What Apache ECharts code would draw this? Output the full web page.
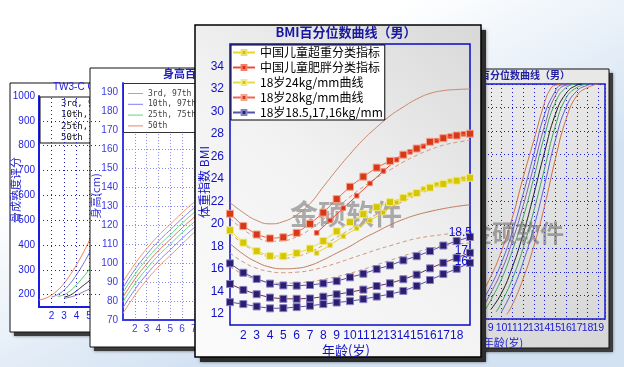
<!DOCTYPE html>
<html><head><meta charset="utf-8">
<script src="https://cdn.jsdelivr.net/npm/echarts@6/dist/echarts.min.js"></script>
<style>html,body{margin:0;padding:0;background:#fff}#c{width:624px;height:367px}</style>
</head><body><div id="c"></div>
<script>
// ================= MAIN CHART (BMI percentile curves, boys) =================
const ages = [1,2,3,4,5,6,7,8,9,10,11,12,13,14,15,16,17,18,19];
const mainXTicks = [2,3,4,5,6,7,8,9,10,11,12,13,14,15,16,17,18];
const mainYTicks = [12,14,16,18,20,22,24,26,28,30,32,34];
const wgocAges = [7.5,8.5,9.5,10.5,11.5,12.5,13.5,14.5,15.5,16.5,17.5,18.5];
const wgocOverweight = [17.4,18.1,18.9,19.6,20.3,21.0,21.9,22.6,23.1,23.5,23.8,24.0];
const wgocObese = [19.2,20.3,21.4,22.5,23.6,24.7,25.7,26.4,26.9,27.4,27.8,28.0];
const cut24 = [19.42,18.33,17.57,17.15,17.12,17.39,17.8,18.48,19.33,20.15,20.86,21.48,21.93,22.32,22.74,23.22,23.55,23.84,24.1];
const cut28 = [20.9,19.8,19.05,18.7,18.8,19.2,20.0,21.0,22.2,23.3,24.2,25.0,25.6,26.15,26.7,27.3,27.62,27.86,28.02];
const cut185 = [16.48,15.65,15.1,14.68,14.52,14.5,14.56,14.7,14.9,15.24,15.56,15.97,16.3,16.75,17.12,17.57,18.07,18.47,18.83];
const cut17 = [14.65,14.12,13.74,13.44,13.33,13.33,13.36,13.52,13.73,13.92,14.15,14.47,14.71,15.07,15.48,16.04,16.53,16.97,17.42];
const cut16 = [13.03,12.86,12.65,12.48,12.5,12.59,12.71,12.86,13.0,13.12,13.3,13.53,13.74,14.03,14.48,15.0,15.53,16.0,16.53];
// percentile reference curves (thin brown; solid P97/P50, dashed P90/P75/P25/P10)
const pctP97 = [21.9,21.0,20.3,20.0,20.2,20.8,21.8,23.3,24.8,26.2,27.5,28.6,29.6,30.4,31.1,31.6,31.85,31.95,32.0];
const pctP90 = [20.5,19.5,18.8,18.45,18.5,18.85,19.5,20.4,21.4,22.4,23.3,24.1,24.8,25.5,26.1,26.6,27.0,27.25,27.45];
const pctP75 = [19.2,18.2,17.5,17.05,16.95,17.1,17.5,18.1,18.8,19.5,20.2,20.85,21.45,22.0,22.55,23.05,23.5,23.9,24.2];
const pctP50 = [18.25,17.3,16.6,16.15,16.0,16.05,16.3,16.8,17.4,18.0,18.7,19.3,19.9,20.4,20.8,21.1,21.35,21.55,21.7];
const pctP25 = [17.4,16.6,16.05,15.75,15.65,15.7,15.85,16.15,16.5,16.9,17.3,17.7,18.05,18.4,18.7,18.9,19.05,19.2,19.3];
const pctP10 = [16.2,15.5,15.05,14.8,14.7,14.75,14.85,15.05,15.3,15.6,15.95,16.35,16.75,17.15,17.5,17.8,18.05,18.2,18.3];
const endLabels = ['18.5','17','16'];

// ================= PANEL A (TW3-C, left) =================
const aXTicks = [2,3,4,5];
const aYTicks = [200,300,400,500,600,700,800,900,1000];
const aCurve1 = [[1,178],[1.5,185],[2,198],[2.5,218],[3,245],[3.5,280],[4,320],[4.5,365],[5,415],[5.5,470]];
const aCurve2 = [[2,190],[2.5,200],[3,218],[3.5,245],[4,280],[4.5,320],[5,365],[5.5,410]];
const aCurve3 = [[2.5,192],[3,200],[3.5,215],[4,240],[4.5,268],[5,300],[5.5,335]];
const aCurve4 = [[3,190],[3.5,198],[4,215],[4.5,235],[5,255],[5.5,280]];
const aCurve5 = [[3,185],[3.5,190],[4,198],[4.5,210],[5,222],[5.5,238]];
const aLegend = ['3rd, 97th','10th, 90th','25th, 75th','50th'];

// ================= PANEL B (height, middle-left) =================
const bAges = [1,2,3,4,5,6,7,8];
const bXTicks = [2,3,4,5,6,7];
const bP97 = [90,99.5,107.5,114.5,120.5,126.5,132,137];
const bP90 = [87,96.5,104.5,111.5,117.5,123.5,129,134];
const bP75 = [84.5,94,102,109,115,121,126.5,131.5];
const bP50 = [82,91.5,99.5,106.5,112.5,118.5,124,129];
const bP25 = [79.5,89,97,104,110,116,121.5,126.5];
const bP10 = [76.5,86,94,101,107,113,118.5,123.5];
const bP3 = [73.5,83,91,98,104,110,116,121];
const bLegend = ['3rd, 97th','10th, 97th','25th, 75th','50th'];

// ================= PANEL D (right, S-curves) =================
const dXTicks = [9,10,11,12,13,14,15,16,17,18,19];
const dCurve1 = [[8,95],[9,180],[10,290],[11,430],[12,600],[13,760],[14,920],[14.5,975],[15,995],[16,1000]];
const dCurve2 = [[8,60],[9,140],[10,240],[11,370],[12,530],[13,700],[14,870],[15,970],[15.5,995],[16.5,1000]];
const dCurve3 = [[8,30],[9,110],[10,205],[11,330],[12,480],[13,650],[14,820],[15,950],[16,995],[17,1000]];
const dCurve4 = [[8.5,40],[9,80],[10,170],[11,290],[12,430],[13,600],[14,780],[15,920],[16,985],[17,1000]];
const dCurve5 = [[9,40],[10,110],[11,220],[12,360],[13,530],[14,710],[15,870],[16,960],[17,995],[17.5,1000]];
const dCurve6 = [[9.5,30],[10,70],[11,170],[12,300],[13,460],[14,640],[15,820],[16,940],[17,985],[18,1000]];
const dCurve7 = [[10,30],[11,120],[12,240],[13,390],[14,570],[15,760],[16,900],[17,970],[18,995],[18.5,1000]];
const dCurve8 = [[10.5,20],[11,60],[12,170],[13,310],[14,480],[15,680],[16,850],[17,950],[18,985],[19,1000]];

// ---------------------------------------------------------------
const pair = (xs, ys) => xs.map((x, i) => [x, ys[i]]);
const CJK = '"Noto Sans CJK SC", sans-serif';
const SANS = '"Liberation Sans", Arial, sans-serif';
const chart = echarts.init(document.getElementById('c'), null, {renderer: 'canvas'});

function thin(xi, data, color, z, dashed, width) {
  return {type:'line', xAxisIndex:xi, yAxisIndex:xi, data, smooth:true, showSymbol:false, symbol:'none',
    z, silent:true, lineStyle:{color, width: width || 1, type: dashed ? [4,3] : 'solid'}};
}
function gridLines(xi, z, color, xs, ys, dash) {
  return {type:'line', xAxisIndex:xi, yAxisIndex:xi, data:[], z, silent:true, showSymbol:false,
    markLine:{symbol:'none', silent:true, animation:false, label:{show:false},
      lineStyle:{color, type: dash, width:1},
      emphasis:{disabled:true},
      data:[...ys.map(v => ({yAxis:v})), ...xs.map(v => ({xAxis:v}))]}};
}
function marked(name, data, size, fill, border, line, z) {
  return {type:'line', name, xAxisIndex:3, yAxisIndex:3, data, z, symbol:'rect', symbolSize:size,
    showAllSymbol:true, silent:true,
    itemStyle:{color:fill, borderColor:border, borderWidth:1},
    lineStyle:{color:line, width:1}};
}
const purpleEnd = (vals, lbl, off) => vals.map((v, i) => i === vals.length - 1
  ? {value:[ages[i], v], label:{show:true, formatter:lbl, position:'left', distance:0, offset:off,
      color:'#1010d0', fontSize:12, fontFamily:SANS}}
  : [ages[i], v]);

const mainNames = ['中国儿童超重分类指标','中国儿童肥胖分类指标','18岁24kg/mm曲线','18岁28kg/mm曲线','18岁18.5,17,16kg/mm'];

const option = {
  animation:false,
  grid:[
    {left:39, top:96, width:62, height:211, z:2},
    {left:123, top:83, width:80, height:237, z:5},
    {left:480, top:84, width:125, height:235, z:5, show:true, borderColor:'#1a1ad0', borderWidth:1.5, backgroundColor:'transparent'},
    {left:230, top:44, width:240, height:281, z:8, show:true, borderColor:'#0a0ac8', borderWidth:1.5, backgroundColor:'transparent'}
  ],
  xAxis:[
    {gridIndex:0, type:'value', min:1, max:5.96, interval:1, z:2,
      axisLine:{lineStyle:{color:'#1a1ae0', width:2}}, axisTick:{show:false}, splitLine:{show:false},
      axisLabel:{color:'#1a1ae0', fontSize:10, fontFamily:SANS, margin:4, formatter:v => aXTicks.includes(v) ? String(v) : ''}},
    {gridIndex:1, type:'value', min:1, max:7.78, interval:1, z:5,
      axisLine:{lineStyle:{color:'#3a3ae0', width:2}}, axisTick:{show:false},
      splitLine:{show:true, lineStyle:{color:'#8a8ae8', type:[1,2]}},
      axisLabel:{color:'#3a3ae0', fontSize:10, fontFamily:SANS, margin:4, formatter:v => bXTicks.includes(v) ? String(v) : ''}},
    {gridIndex:2, type:'value', min:8, max:19.62, interval:1, z:5,
      axisLine:{show:false}, axisTick:{show:false},
      splitLine:{show:true, lineStyle:{color:'#1a1ad0', type:[1,3]}},
      axisLabel:{color:'#1a1ad0', fontSize:10.5, fontFamily:SANS, margin:4, formatter:v => dXTicks.includes(v) ? String(v) : ''}},
    {gridIndex:3, type:'value', min:1, max:19, interval:1, z:9,
      axisLine:{show:false}, axisTick:{show:false}, splitLine:{show:false},
      axisLabel:{color:'#1010c8', fontSize:12, fontFamily:SANS, margin:5, formatter:v => mainXTicks.includes(v) ? String(v) : ''}}
  ],
  yAxis:[
    {gridIndex:0, type:'value', min:150, max:1000, interval:50, z:2,
      axisLine:{show:true, lineStyle:{color:'#1a1ae0', width:2}}, axisTick:{show:false}, splitLine:{show:false},
      axisLabel:{color:'#1a1ae0', fontSize:10, fontFamily:SANS, margin:4, formatter:v => aYTicks.includes(v) ? String(v) : ''}},
    {gridIndex:1, type:'value', min:70, max:195, interval:10, z:5,
      axisLine:{show:true, lineStyle:{color:'#3a3ae0', width:2}}, axisTick:{show:false},
      splitLine:{show:true, lineStyle:{color:'#8a8ae8', type:[1,2]}},
      axisLabel:{color:'#3a3ae0', fontSize:10, fontFamily:SANS, margin:5}},
    {gridIndex:2, type:'value', min:0, max:1000, interval:100, z:5,
      axisLine:{show:false}, axisTick:{show:false},
      splitLine:{show:true, lineStyle:{color:'#1a1ad0', type:[1,3]}}, axisLabel:{show:false}},
    {gridIndex:3, type:'value', min:11, max:36, interval:1, z:9,
      axisLine:{show:false}, axisTick:{show:false}, splitLine:{show:false},
      axisLabel:{color:'#1010c8', fontSize:12, fontFamily:SANS, margin:6, formatter:v => mainYTicks.includes(v) ? String(v) : ''}}
  ],
  legend:{orient:'vertical', left:231, top:45, z:12, selectedMode:false, data:mainNames,
    backgroundColor:'#ffffff', borderColor:'#000', borderWidth:1, padding:[0,2,0,1], itemGap:0,
    itemWidth:22, itemHeight:6, textStyle:{fontSize:12, fontFamily:CJK, color:'#000', lineHeight:15}},
  series:[
    // panel A
    gridLines(0, 2, '#2020b0', aXTicks, [200,300,400,500,600,700,800,900], [1,3]),
    thin(0, aCurve1, '#f08050', 2), thin(0, aCurve2, '#7070e0', 2), thin(0, aCurve3, '#50c860', 2),
    thin(0, aCurve4, '#303030', 2), thin(0, aCurve5, '#9070c0', 2),
    // panel B
    thin(1, pair(bAges, bP97), '#f09070', 5), thin(1, pair(bAges, bP90), '#8080f0', 5),
    thin(1, pair(bAges, bP75), '#60d880', 5), thin(1, pair(bAges, bP50), '#e07050', 5),
    thin(1, pair(bAges, bP25), '#60d880', 5), thin(1, pair(bAges, bP10), '#8080f0', 5),
    thin(1, pair(bAges, bP3), '#f09070', 5),
    // panel D
    thin(2, dCurve1, '#d07040', 5), thin(2, dCurve2, '#6060d0', 5), thin(2, dCurve3, '#8060b0', 5),
    thin(2, dCurve4, '#40a060', 5), thin(2, dCurve5, '#202020', 5), thin(2, dCurve6, '#40a060', 5),
    thin(2, dCurve7, '#6060d0', 5), thin(2, dCurve8, '#d07040', 5),
    // main grid
    gridLines(3, 8, '#0a0ad0', mainXTicks, mainYTicks, [1,3]),
    thin(3, pair(ages, pctP97), '#c8866a', 9),
    thin(3, pair(ages, pctP90), '#d8907a', 9, true),
    thin(3, pair(ages, pctP75), '#d8987a', 9, true),
    thin(3, pair(ages, pctP50), '#c07a5a', 9),
    thin(3, pair(ages, pctP25), '#d09478', 9, true),
    thin(3, pair(ages, pctP10), '#d09478', 9, true),
    marked(mainNames[0], pair(wgocAges, wgocOverweight), 4.5, '#d4c200', '#ece070', '#e6d820', 10),
    marked(mainNames[1], pair(wgocAges, wgocObese), 4.5, '#dc2c14', '#f08068', '#f04a36', 10),
    marked(mainNames[2], pair(ages, cut24), 7, '#d4c600', '#f2ea88', '#e8dc40', 11),
    marked(mainNames[3], pair(ages, cut28), 7, '#d63818', '#f4a488', '#f06650', 11),
    marked(mainNames[4], purpleEnd(cut185, endLabels[0], [6,-4]), 7, '#2c1e6e', '#8c80c4', '#5252a8', 11),
    marked(mainNames[4], purpleEnd(cut17, endLabels[1], [2,-2]), 7, '#2c1e6e', '#8c80c4', '#7a3040', 11),
    marked(mainNames[4], purpleEnd(cut16, endLabels[2], [2,-1]), 7, '#2c1e6e', '#8c80c4', '#5252a8', 11)
  ],
  graphic:{elements:[
    // page background
    {type:'rect', z:0, silent:true, shape:{x:0,y:0,width:624,height:367},
      style:{fill:new echarts.graphic.LinearGradient(0,0,0.3,1,[{offset:0,color:'#ffffff'},{offset:0.45,color:'#ffffff'},{offset:1,color:'#d3e2f2'}])}},
    // panel A frame
    {type:'rect', z:1, silent:true, shape:{x:14,y:87,width:100,height:249}, style:{fill:'#3c3c3c', shadowBlur:3, shadowColor:'rgba(0,0,0,0.5)'}},
    {type:'rect', z:1, silent:true, shape:{x:10,y:83,width:100,height:249}, style:{fill:'#ffffff', stroke:'#111', lineWidth:1}},
    {type:'text', z:3, silent:true, style:{x:53, y:87, text:'TW3-C Carpal', fill:'#2020d0', font:'10px '+SANS, verticalAlign:'middle'}},
    {type:'rect', z:3, silent:true, shape:{x:40,y:97,width:70,height:46}, style:{fill:'#ffffff', stroke:'#111', lineWidth:1}},
    ...aLegend.map((t, i) => ({type:'text', z:3, silent:true, style:{x:61, y:103.5 + i*11.5, text:t, fill:'#111', font:'9px "DejaVu Sans Mono", monospace', verticalAlign:'middle'}})),
    {type:'text', z:3, silent:true, rotation:Math.PI/2, x:16, y:190, style:{text:'骨成熟度评分', fill:'#2020d0', font:'11px '+CJK, align:'center', verticalAlign:'middle'}},
    // panel B frame
    {type:'rect', z:4, silent:true, shape:{x:94,y:72,width:120,height:279}, style:{fill:'#3c3c3c', shadowBlur:3, shadowColor:'rgba(0,0,0,0.5)'}},
    {type:'rect', z:4, silent:true, shape:{x:90,y:68,width:120,height:279}, style:{fill:'#ffffff', stroke:'#111', lineWidth:1}},
    {type:'text', z:6, silent:true, style:{x:163, y:74, text:'身高百分位数曲线', fill:'#2020c0', font:'bold 11px '+CJK, verticalAlign:'middle'}},
    {type:'text', z:6, silent:true, rotation:Math.PI/2, x:96, y:196, style:{text:'身高(cm)', fill:'#3a3ae0', font:'11px '+CJK, align:'center', verticalAlign:'middle'}},
    {type:'rect', z:6, silent:true, shape:{x:123.5,y:83.5,width:90,height:49}, style:{fill:'#ffffff', stroke:'#333', lineWidth:1}},
    ...['#f09070','#8080f0','#60d880','#f08060'].map((c, i) => ({type:'line', z:6, silent:true, shape:{x1:128,y1:93.5+i*10.8,x2:143,y2:93.5+i*10.8}, style:{stroke:c, lineWidth:1}})),
    ...bLegend.map((t, i) => ({type:'text', z:6, silent:true, style:{x:148, y:93.5 + i*10.8, text:t, fill:'#404040', font:'8px "DejaVu Sans Mono", monospace', verticalAlign:'middle'}})),
    // panel D frame
    {type:'rect', z:4, silent:true, shape:{x:444,y:73,width:169,height:279}, style:{fill:'#3c3c3c', shadowBlur:3, shadowColor:'rgba(0,0,0,0.5)'}},
    {type:'rect', z:4, silent:true, shape:{x:440,y:69,width:169,height:279},
      style:{fill:new echarts.graphic.LinearGradient(0,0,1,1,[{offset:0,color:'#eeeeee'},{offset:1,color:'#d6d6d6'}]), stroke:'#111', lineWidth:1}},
    {type:'text', z:6, silent:true, style:{x:570, y:75, text:'BMI百分位数曲线（男）', fill:'#2020a0', font:'bold 10px '+CJK, align:'right', verticalAlign:'middle'}},
    {type:'text', z:6, silent:true, style:{x:503, y:343, text:'年龄(岁)', fill:'#1a1ad0', font:'11px '+CJK, align:'center', verticalAlign:'middle'}},
    {type:'text', z:6, silent:true, style:{x:516, y:233, text:'金硕软件', fill:'rgba(110,110,110,0.6)', font:'bold 24px '+CJK, align:'center', verticalAlign:'middle'}},
    // main panel frame
    {type:'rect', z:7, silent:true, shape:{x:200,y:30,width:286,height:332}, style:{fill:'#2c2c2c', shadowBlur:3, shadowColor:'rgba(0,0,0,0.5)'}},
    {type:'rect', z:7, silent:true, shape:{x:195,y:25,width:286,height:332},
      style:{fill:new echarts.graphic.LinearGradient(0,1,1,0,[{offset:0,color:'#fbfbfb'},{offset:0.5,color:'#f2f2f2'},{offset:1,color:'#d8d8d8'}]), stroke:'#000', lineWidth:1.5}},
    {type:'text', z:12, silent:true, style:{x:346, y:32, text:'BMI百分位数曲线（男）', fill:'#1818a0', font:'bold 13px '+CJK, align:'center', verticalAlign:'middle'}},
    {type:'text', z:12, silent:true, style:{x:346, y:350, text:'年龄(岁)', fill:'#1010c8', font:'13px '+CJK, align:'center', verticalAlign:'middle'}},
    {type:'text', z:12, silent:true, rotation:Math.PI/2, x:204, y:182, style:{text:'体重指数 BMI', fill:'#1010c8', font:'12px '+CJK, align:'center', verticalAlign:'middle'}},
    {type:'text', z:8.5, silent:true, style:{x:346, y:214, text:'金硕软件', fill:'rgba(110,110,110,0.55)', font:'bold 28px '+CJK, align:'center', verticalAlign:'middle'}}
  ]}
};
chart.setOption(option);
</script></body></html>
